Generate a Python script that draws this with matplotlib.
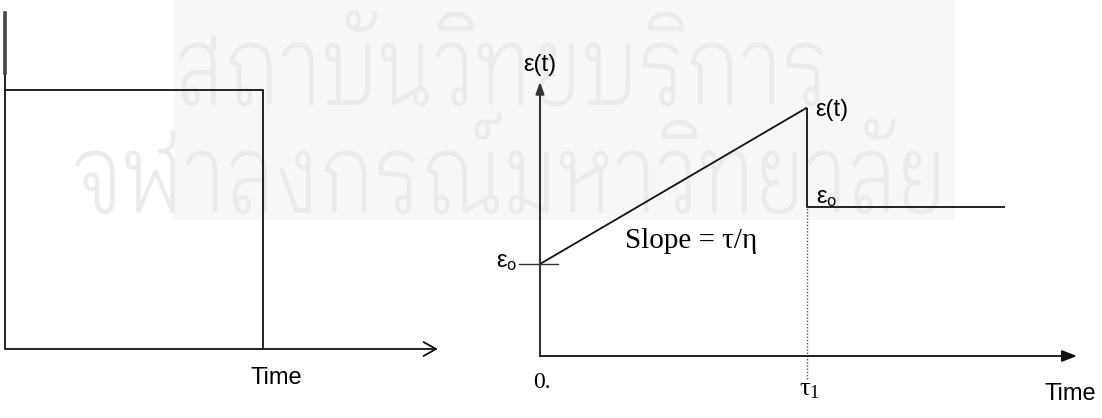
import matplotlib
matplotlib.use("Agg")
import matplotlib.pyplot as plt
from matplotlib.font_manager import FontProperties
from matplotlib.patches import PathPatch, Rectangle
from matplotlib.textpath import TextPath
from matplotlib.transforms import Affine2D

W, H = 1102, 418

# stress history: load held from t=0 until removal at t=1
stress_time = [0.0, 1.0, 1.0]
stress_value = [1.0, 1.0, 0.0]

# strain response: instant eps0, linear creep to t1, partial recovery
strain_time = [0.0, 1.0, 1.0, 1.74]
strain_value = [1.0, 2.70, 1.62, 1.62]

watermark_lines = ["สถาบันวิทยบริการ", "จุฬาลงกรณ์มหาวิทยาลัย"]

SANS = "Liberation Sans"
SERIF = "Liberation Serif"
THAI = "IBM Plex Sans Thai Looped"

fig = plt.figure(figsize=(W / 100, H / 100), dpi=100)
bg = fig.add_axes([0, 0, 1, 1])
bg.set_xlim(0, W)
bg.set_ylim(H, 0)
bg.axis("off")

# library stamp behind the drawing
bg.add_patch(Rectangle((174, 0), 781, 220, facecolor="#f7f7f7", edgecolor="none", zorder=0))
clip = Rectangle((0, 0), 955, 220, transform=bg.transData)
thai = FontProperties(family=THAI, weight="light")
body = TextPath((0, 0), "น", size=100, prop=thai).get_extents().height
first = TextPath((0, 0), watermark_lines[0], size=100, prop=thai)
fb = first.get_extents()
sx = (822 - 180) / fb.width
sy = 62 / body
for text, x0, base in zip(watermark_lines, [180, 76], [104, 212]):
    tp = TextPath((0, 0), text, size=100, prop=thai)
    ext = tp.get_extents()
    tr = Affine2D().translate(-ext.x0, 0).scale(sx, -sy).translate(x0, base)
    patch = PathPatch(tr.transform_path(tp), facecolor="#ebebeb", edgecolor="#ebebeb",
                      lw=1.2, zorder=1)
    bg.add_patch(patch)
    patch.set_clip_path(clip)


def panel(ox, oy, kx, ky, right, top):
    ax = fig.add_axes([ox / W, (H - oy) / H, (right - ox) / W, (oy - top) / H])
    ax.set_xlim(0, (right - ox) / kx)
    ax.set_ylim(0, (oy - top) / ky)
    ax.axis("off")
    ax.patch.set_visible(False)
    return ax


line = dict(color="#111111", lw=1.3, clip_on=False, solid_capstyle="butt")
label = dict(textcoords="offset pixels", annotation_clip=False)

# left: applied stress
axl = panel(5, 349, 258, 259, right=450, top=5)
axl.plot([0, 0], [0, 1.297], **line)
axl.plot([0, 0], [1.066, 1.297], color="#444444", lw=2.6, clip_on=False)
axl.annotate("", xy=(1.678, 0), xytext=(0, 0),
             arrowprops=dict(arrowstyle="->,head_length=0.9,head_width=0.5",
                             color="#111111", lw=1.3, shrinkA=0, shrinkB=0))
axl.plot(stress_time, stress_value, **line)
bg.text(276, 378, "Time", fontsize=17, family=SANS, ha="center", va="center")

# right: strain response
axr = panel(540, 356, 267, 92, right=1095, top=55)
axr.annotate("", xy=(0, 2.98), xytext=(0, 0),
             arrowprops=dict(arrowstyle="-|>,head_length=0.7,head_width=0.25",
                             color="#333333", lw=1.5, shrinkA=0, shrinkB=0))
axr.annotate("", xy=(2.011, 0), xytext=(0, 0),
             arrowprops=dict(arrowstyle="-|>,head_length=0.9,head_width=0.35",
                             color="#111111", lw=1.3, shrinkA=0, shrinkB=0))
axr.plot(strain_time[:2], strain_value[:2], **line)
axr.plot(strain_time[1:], strain_value[1:], **line)
eps0 = strain_value[0]
t1 = strain_time[1]
axr.plot([-0.08, 0.067], [eps0, eps0], color="#333333", lw=1.0, clip_on=False)
axr.plot([t1, t1], [-0.25, strain_value[2]], color="#555555", lw=1.0,
         linestyle=(0, (1, 1.3)), clip_on=False)

axr.annotate("ε(t)", xy=(0, 2.98), xytext=(0, 6), fontsize=17, family=SANS,
             ha="center", va="bottom", **label)
axr.annotate("ε(t)", xy=(t1, strain_value[1]), xytext=(8, -2), fontsize=17, family=SANS,
             ha="left", va="center", **label)
axr.annotate(r"$\mathregular{ε_{o}}$", xy=(t1, strain_value[2]), xytext=(9, 4),
             fontsize=17, family=SANS, ha="left", va="baseline", **label)
axr.annotate(r"$\mathregular{ε_{o}}$", xy=(-0.08, eps0), xytext=(-1, 2),
             fontsize=17, family=SANS, ha="right", va="center", **label)
axr.annotate("0.", xy=(0, 0), xytext=(2, -26), fontsize=17, family=SERIF,
             ha="center", va="center", **label)
axr.annotate(r"$\mathregular{τ_{1}}$", xy=(t1, 0), xytext=(3, -34), fontsize=19,
             family=SERIF, ha="center", va="center", **label)
bg.text(691, 241, "Slope = τ/η", fontsize=21, family=SERIF, ha="center", va="center")
bg.text(1070, 394, "Time", fontsize=17, family=SANS, ha="center", va="center")

fig.savefig("out.png", dpi=100)
